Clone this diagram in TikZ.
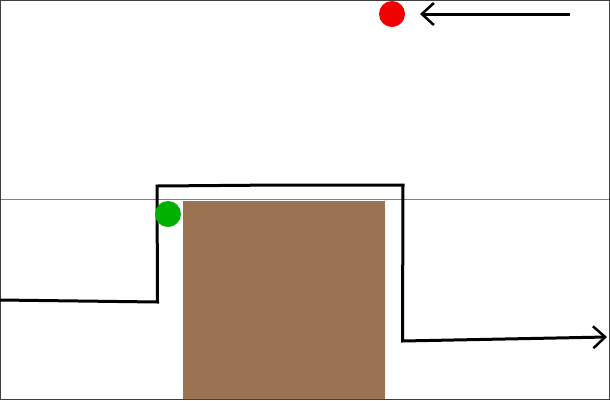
\documentclass[tikz,border=0pt]{standalone}
\usetikzlibrary{arrows.meta}
\definecolor{brownbox}{HTML}{9B7352}
\definecolor{greenball}{HTML}{00B000}
\definecolor{redball}{HTML}{F00000}
\definecolor{framegray}{HTML}{404040}
\tikzset{
  pathline/.style={line width=3pt, black},
  barb/.style={-{Straight Barb[length=12pt,width=22pt,line width=2.5pt]}},
  ball/.style={circle, minimum size=26pt, inner sep=0pt, draw=none},
}
\begin{document}
\begin{tikzpicture}[x=1pt,y=-1pt]
\useasboundingbox (0,0) rectangle (610,400);
\fill[white] (0,0) rectangle (610,400);
% brown block
\fill[brownbox] (183,201) rectangle (385,399);
% horizon line
\draw[gray, line width=1.5pt] (0,199.5) -- (610,199.5);
% frame
\draw[framegray, line width=1pt] (0.5,0.5) rectangle (609.5,399.5);
% path coordinates
\coordinate (p0) at (0,300);
\coordinate (p1) at (157.5,302);
\coordinate (p2) at (157,186);
\coordinate (p3) at (280,185);
\coordinate (p4) at (403,185);
\coordinate (p5) at (402.5,341);
\coordinate (p6) at (607,337);
\draw[pathline, line join=miter, barb] (p0) -- (p1) -- (p2) -- (p3) -- (p4) -- (p5) -- (p6);
% balls
\node[ball, fill=greenball] (green) at (168,214) {};
\node[ball, fill=redball] (red) at (392,14) {};
% top arrow
\coordinate (a0) at (570,14);
\coordinate (a1) at (420,14);
\draw[pathline, barb] (a0) -- (a1);
\end{tikzpicture}
\end{document}
